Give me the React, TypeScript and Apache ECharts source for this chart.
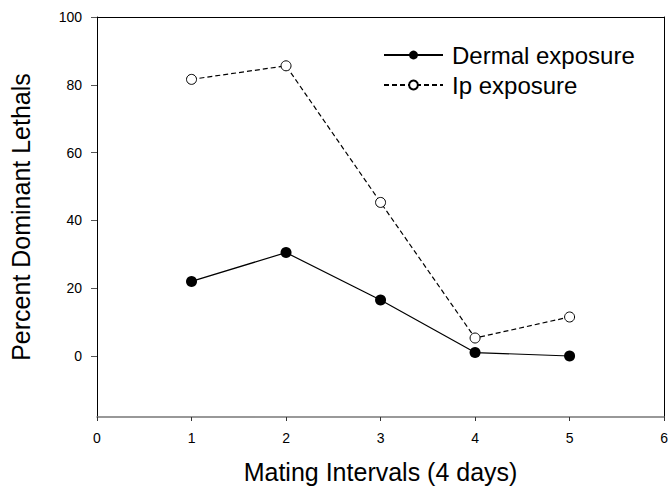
import React, { useEffect, useRef } from "react";
import * as echarts from "echarts";

const intervals = [1, 2, 3, 4, 5];
const dermal = [22.0, 30.5, 16.5, 1.0, 0.0];
const ip = [81.6, 85.6, 45.3, 5.3, 11.5];
const yTicks = [0, 20, 40, 60, 80, 100];

const FONT = "Liberation Sans, Arial, sans-serif";

export default function App() {
  const ref = useRef<HTMLDivElement>(null);
  useEffect(() => {
    if (!ref.current) return;
    const chart = echarts.init(ref.current, null, { renderer: "svg" });
    chart.setOption({
      animation: false,
      backgroundColor: "#fff",
      textStyle: { fontFamily: FONT },
      grid: { left: 96, top: 17, right: 4, bottom: 71 },
      legend: {
        orient: "vertical",
        left: 378,
        top: 38,
        itemWidth: 59,
        itemHeight: 11,
        itemGap: 6,
        textStyle: { fontSize: 24, color: "#000", fontFamily: FONT, padding: [0, 0, 0, 4] },
        data: ["Dermal exposure", "Ip exposure"],
      },
      xAxis: [
        {
          type: "value",
          min: 0,
          max: 6,
          interval: 1,
          name: "Mating Intervals (4 days)",
          nameLocation: "middle",
          nameGap: 42,
          nameTextStyle: { fontSize: 25, color: "#000", fontFamily: FONT },
          axisLine: { onZero: false, lineStyle: { color: "#777", width: 1.5 } },
          axisTick: { length: 4, lineStyle: { color: "#333" } },
          axisLabel: { fontSize: 14, color: "#000", margin: 14, fontFamily: FONT },
          splitLine: { show: false },
        },
        {
          type: "value",
          position: "top",
          min: 0,
          max: 6,
          axisLine: { show: true, onZero: false, lineStyle: { color: "#000", width: 1 } },
          axisTick: { show: false },
          axisLabel: { show: false },
          splitLine: { show: false },
        },
      ],
      yAxis: [
        {
          type: "value",
          min: -18,
          max: 100,
          name: "Percent Dominant Lethals",
          nameLocation: "middle",
          nameGap: 64,
          nameTextStyle: { fontSize: 25, color: "#000", fontFamily: FONT },
          axisLine: { show: true, onZero: false, lineStyle: { color: "#000", width: 1 } },
          axisTick: { show: true, length: 6, customValues: yTicks, lineStyle: { color: "#555" } },
          axisLabel: { fontSize: 14, color: "#000", margin: 15, customValues: yTicks, fontFamily: FONT },
          splitLine: { show: false },
        },
        {
          type: "value",
          position: "right",
          min: -18,
          max: 100,
          axisLine: { show: true, onZero: false, lineStyle: { color: "#000", width: 1 } },
          axisTick: { show: false },
          axisLabel: { show: false },
          splitLine: { show: false },
        },
      ],
      series: [
        {
          name: "Ip exposure",
          type: "line",
          data: intervals.map((x, i) => [x, ip[i]]),
          symbol: "circle",
          symbolSize: 10,
          lineStyle: { color: "#000", width: 1.2, type: [5, 3] },
          itemStyle: { color: "#fff", borderColor: "#000", borderWidth: 1 },
        },
        {
          name: "Dermal exposure",
          type: "line",
          data: intervals.map((x, i) => [x, dermal[i]]),
          symbol: "circle",
          symbolSize: 11,
          lineStyle: { color: "#000", width: 1.2 },
          itemStyle: { color: "#000", borderColor: "#000", borderWidth: 0 },
        },
      ],
    });
    return () => chart.dispose();
  }, []);
  return <div ref={ref} style={{ width: 671, height: 489, position: "absolute", left: 0, top: 0 }} />;
}
